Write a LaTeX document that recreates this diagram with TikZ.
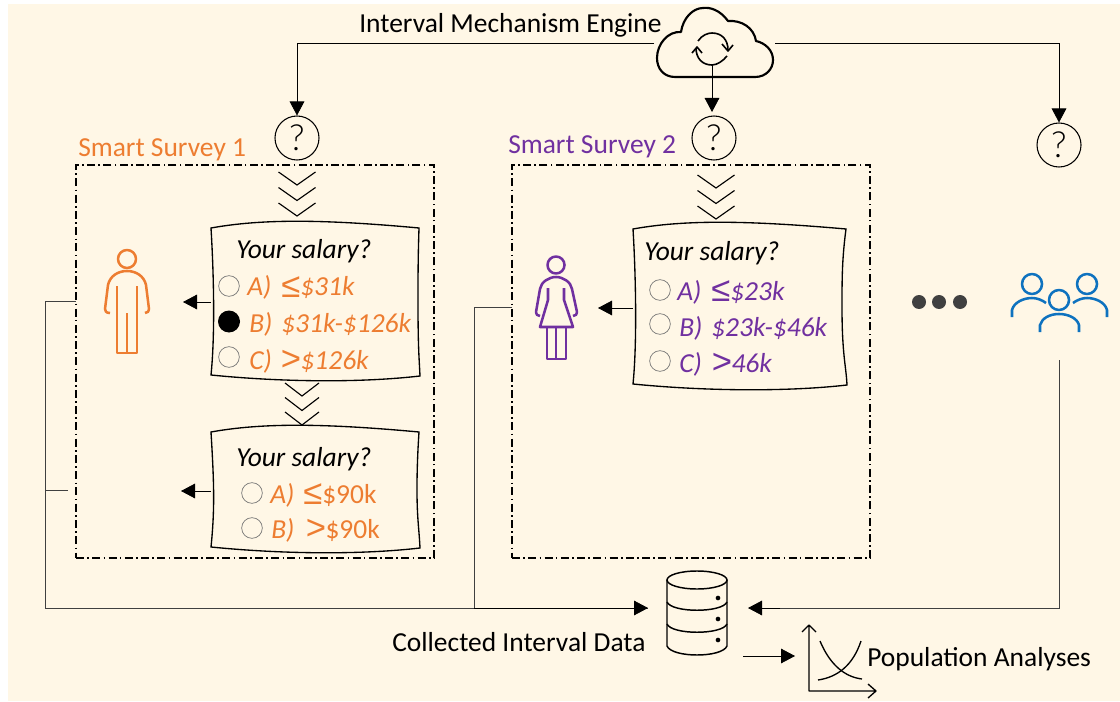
\documentclass[tikz,border=0pt]{standalone}
\usepackage{fontspec}
\setmainfont{Carlito}
\newfontfamily\symf{Liberation Sans}
\newfontfamily\lightf{Lato Light}
\usetikzlibrary{arrows.meta}
\definecolor{bgc}{HTML}{FFF7E6}
\definecolor{orng}{HTML}{ED7D31}
\definecolor{purp}{HTML}{7030A0}
\definecolor{blu}{HTML}{0E72BF}
\definecolor{dotc}{HTML}{404040}
\newcommand{\lee}{\raisebox{-1.2pt}{\symf\fontsize{26}{26}\selectfont ≤}}
\newcommand{\gtt}{\raisebox{-1.2pt}{\symf\fontsize{26}{26}\selectfont >}}
\tikzset{
 lbl/.style={inner sep=0pt,anchor=base west,yshift=-.75pt,font=\fontsize{20.6}{22}\selectfont},
 opt/.style={lbl,font=\fontsize{20.6}{22}\selectfont\itshape},
 que/.style={draw,circle,line width=.8pt,minimum size=33pt,inner sep=0pt,font=\lightf\fontsize{27}{28}\selectfont},
 rad/.style={draw=black!55,fill=none,circle,line width=.5pt,minimum size=15.5pt,inner sep=0pt},
 radon/.style={fill=black,circle,minimum size=16.5pt,inner sep=0pt},
 conn/.style={line width=.6pt,draw=black!75},
 arr/.style={line width=.6pt,-{Triangle[length=10.5pt,width=11pt]}},
 chev/.style={line width=.85pt},
 ssbox/.style={draw,line width=.9pt,dash pattern=on 6pt off 2.5pt on 1.2pt off 2.5pt},
 wavy/.style={line width=1pt},
 icon/.style={line width=1.9pt,line join=round},
 dot/.style={fill=dotc,circle,minimum size=10.5pt,inner sep=0pt},
}
\newcommand{\chevs}[4]{% x, y, halfwidth, step
 \foreach \k in {0,1,2}{\draw[chev] ({#1-#3},{#2+\k*#4})--({#1},{#2+\k*#4+13})--({#1+#3},{#2+\k*#4});}}
\newcommand{\wbox}[5]{% x0 y0 x1 y1 rightbulge
 \draw[wavy] (#1,#2) .. controls ({#1+50},{#2-9}) and ({#1+110},{#2-9}) .. ({#3},#2)
   .. controls ({#3+#5},{#2+30}) and ({#3+#5},{#2+50}) .. ({#3+#5},{(#2+#4)/2})
   .. controls ({#3+#5},{#4-30}) and ({#3},{#4-20}) .. ({#3+1},#4)
   .. controls ({#3-60},{#4+7}) and ({#1+70},{#4+6}) .. ({#1},{#4-1})
   .. controls ({#1+4},{#4-40}) and ({#1+3},{#2+50}) .. cycle;}
\begin{document}
\begin{tikzpicture}[x=.75pt,y=-.75pt]
\useasboundingbox (0,0) rectangle (1120,702);
\fill[white] (0,0) rectangle (1120,702);
\fill[bgc] (8,4) rectangle (1120,701);
% labels
\node[lbl] (engine) at (359,32) {Interval Mechanism Engine};
\node[lbl,text=orng] (s1) at (78,156) {Smart Survey 1};
\node[lbl,text=purp] (s2) at (508,153) {Smart Survey 2};
\node[lbl] (coll) at (392,650) {Collected Interval Data};
\node[lbl] (pop) at (867,665) {Population Analyses};
% survey frames
\node[ssbox,minimum width=268.5pt,minimum height=294.75pt,inner sep=0pt] (f1) at (255,361.5) {};
\node[ssbox,minimum width=268.5pt,minimum height=294.75pt,inner sep=0pt] (f2) at (691,361.5) {};
% questions
\node[que] (q1) at (297,138) {?};
\node[que] (q2) at (714,138) {?};
\node[que] (q3) at (1059,145) {?};
% chevrons
\chevs{297}{172}{18.5}{15.5}
\chevs{302}{383}{17}{14.5}
\chevs{716}{175}{18.5}{15.5}
% question cards
\wbox{211}{228}{419}{376}{-1}
\wbox{211}{432}{419}{548}{-2}
\wbox{633}{229}{846}{385}{-4}
\coordinate (c1) at (211,302);
\coordinate (c2) at (211,491);
\coordinate (c3) at (633,308);
\node[opt] (t1) at (236,257) {Your salary?};
\node[rad] (r1a) at (229,286) {};
\node[radon] (r1b) at (229,321.5) {};
\node[rad] (r1c) at (229,357) {};
\node[opt,text=orng] (a1) at (247,295) {A)};
\node[opt,text=orng] (a2) at (281,295) {\lee\$31k};
\node[opt,text=orng] (b1) at (249,331) {B)};
\node[opt,text=orng] (b2) at (281,331) {\$31k-\$126k};
\node[opt,text=orng] (c1t) at (249,368) {C)};
\node[opt,text=orng] (c2t) at (280,368) {\gtt\$126k};
\node[opt] (t2) at (236,465) {Your salary?};
\node[rad] (r2a) at (252,493) {};
\node[rad] (r2b) at (252,528) {};
\node[opt,text=orng] (a3) at (270,502) {A)};
\node[opt,text=orng] (a4) at (303,502) {\lee\upshape\$90k};
\node[opt,text=orng] (b3) at (271,537) {B)};
\node[opt,text=orng] (b4) at (305,537) {\gtt\upshape\$90k};
\node[opt] (t3) at (644,260) {Your salary?};
\node[rad] (r3a) at (660,290) {};
\node[rad] (r3b) at (660,324) {};
\node[rad] (r3c) at (660,361) {};
\node[opt,text=purp] (a5) at (677,299) {A)};
\node[opt,text=purp] (a6) at (711,299) {\lee\$23k};
\node[opt,text=purp] (b5) at (679,335) {B)};
\node[opt,text=purp] (b6) at (711,335) {\$23k-\$46k};
\node[opt,text=purp] (c5) at (679,371) {C)};
\node[opt,text=purp] (c6) at (711,371) {\gtt 46k};
% man
\begin{scope}[icon,draw=orng]
\draw (127,259) circle (9);
\draw (110,313) .. controls (106,313) and (105,311) .. (105,309) -- (108,285) .. controls (110,276) and (118,271) .. (127,271) .. controls (136,271) and (144,276) .. (146,285) -- (149,309) .. controls (149,311) and (148,313) .. (145,313);
\draw (117,286) -- (117,353) -- (137,353) -- (137,286);
\draw (127,313) -- (127,353);
\end{scope}
% woman
\begin{scope}[icon,draw=purp]
\draw (556,265) circle (8.5);
\draw (540,316) .. controls (537,316) and (536,314) .. (536,312) -- (540,289) .. controls (541,282) and (549,277) .. (556,277) .. controls (563,277) and (571,282) .. (572,289) -- (577,312) .. controls (577,314) and (576,316) .. (573,316);
\draw (548,288) -- (548,300) -- (540,327) -- (573,327) -- (564,300) -- (564,288);
\draw (547,327) -- (547,359) -- (566,359) -- (566,327) (556,327) -- (556,359);
\end{scope}
% people
\begin{scope}[icon,draw=blu]
\draw (1032,284) circle (10) (1087,284) circle (10) (1059,300) circle (10);
\draw (1012,317) -- (1012,310) .. controls (1014,302) and (1024,298) .. (1032,298) .. controls (1037,298) and (1042,300) .. (1046,303);
\draw (1073,303) .. controls (1077,300) and (1082,298) .. (1087,298) .. controls (1095,298) and (1105,302) .. (1107,310) -- (1107,317);
\draw (1040,332) -- (1040,325) .. controls (1042,318) and (1050,314) .. (1059,314) .. controls (1068,314) and (1077,318) .. (1079,325) -- (1079,332);
\end{scope}
\node[dot] (d1) at (919,302) {};
\node[dot] (d2) at (939,302) {};
\node[dot] (d3) at (960,302) {};
% cloud
\draw[line width=1.6pt,line join=round] (675,77) -- (755,77) .. controls (766,77) and (773,69) .. (773,60) .. controls (773,50) and (765,43) .. (756,41) .. controls (754,28) and (742,20) .. (728,21) .. controls (720,10) and (710,7) .. (703,8) .. controls (693,8) and (683,18) .. (681,32) .. controls (668,31) and (657,44) .. (657,58) .. controls (657,69) and (664,77) .. (675,77) -- cycle;
\begin{scope}[line width=1.2pt,line join=round]
\draw (698,41) .. controls (702,35) and (708,33) .. (712,33) .. controls (722,33) and (728,40) .. (728,50);
\draw (722,44) -- (728,51) -- (733,45);
\draw (727,56) .. controls (723,61) and (717,65) .. (712,65) .. controls (702,65) and (696,58) .. (696,48);
\draw (692,53) -- (697,47) -- (702,53);
\end{scope}
\coordinate (cl) at (654,43);
\coordinate (cr) at (775,43);
\coordinate (cb) at (712,65);
% database
\begin{scope}[line width=1.1pt]
\draw (697,580) ellipse (30 and 9);
\draw (667,580) -- (667,646) .. controls (672,658) and (722,658) .. (727,646) -- (727,580);
\draw (667,602) .. controls (672,613) and (722,613) .. (727,602);
\draw (667,624) .. controls (672,635) and (722,635) .. (727,624);
\end{scope}
\node[fill,circle,inner sep=0pt,minimum size=3.5pt] (k1) at (718,598) {};
\node[fill,circle,inner sep=0pt,minimum size=3.5pt] (k2) at (718,619) {};
\node[fill,circle,inner sep=0pt,minimum size=3.5pt] (k3) at (718,640) {};
\coordinate (ca) at (743,656);
\coordinate (cb2) at (795,656);
% chart
\draw[line width=1pt,line join=round] (802,632) -- (809,625) -- (816,632) (809,625) -- (809,691) -- (876,691) (868,684) -- (876,691) -- (868,698);
\draw[line width=1pt] (820,641) .. controls (830,665) and (845,677) .. (862,679);
\draw[line width=1pt] (818,680) .. controls (838,677) and (853,665) .. (861,641);
% connectors
\coordinate (l1) at (76,301);
\coordinate (l2) at (68,490);
\coordinate (lm) at (45,490);
\coordinate (l3) at (512,307);
\coordinate (p) at (1059,360);
\draw[arr] (cl) -- (cl -| q1) -- (q1.north);
\draw[arr] (cr) -- (cr -| q3) -- (q3.north);
\draw[arr] (cb) -- (712,112);
\draw[conn] (l1) -- (45,301) -- (45,608) -- (648,608);
\draw[conn] (l2) -- (lm);
\draw[conn] (l3) -- (474,307) -- (474,608);
\draw[arr] (474,608) -- (648,608);
\draw[conn] (p) -- (1059,608) -- (780,608);
\draw[arr] (780,608) -- (748,608);
\draw[arr] (c1) -- (183,302);
\draw[arr] (c2) -- (181,491);
\draw[arr] (c3) -- (598,308);
\draw[arr] (ca) -- (cb2);
\end{tikzpicture}
\end{document}
